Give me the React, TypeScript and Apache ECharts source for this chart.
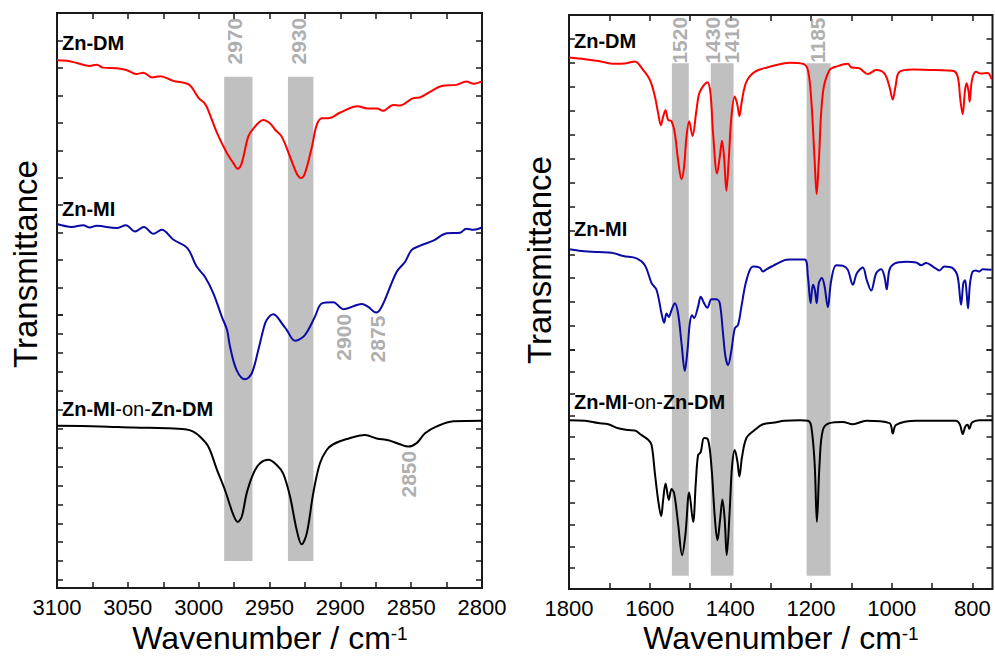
import React, { useEffect, useRef } from 'react';
import * as echarts from 'echarts';

// ---------- data (wavenumber / cm-1, transmittance in arbitrary offset units) ----------
const leftDM: number[][] = [
  [3100, 91.8], [3093, 91.7], [3086, 91.3], [3077, 90.8], [3072, 91.0], [3067.5, 90.5], [3058, 90.4], [3051, 90.1],
  [3044, 89.4], [3039, 89.6], [3033, 88.8], [3027, 89.0], [3018, 88.2], [3008, 87.7], [3005, 87.1], [3000, 85.2],
  [2995.5, 84.2], [2992, 82.3], [2987, 79.1], [2980, 75.6], [2975.5, 73.9], [2972.5, 72.9], [2969.6, 73.9], [2965, 78.5],
  [2961.4, 79.9], [2954.4, 81.4], [2949.6, 80.8], [2946, 79.7], [2941.4, 78.5], [2935.5, 75.0], [2930.8, 72.1], [2927.8, 71.3],
  [2925, 72.1], [2920, 76.8], [2916.7, 80.5], [2913, 81.7], [2908.5, 81.7], [2900, 82.7], [2888, 83.8], [2881, 83.4],
  [2874, 83.4], [2870, 83.0], [2862.6, 84.0], [2858, 83.9], [2848.5, 85.2], [2844, 85.3], [2836.7, 86.3], [2828.4, 87.3],
  [2818, 87.5], [2811, 88.1], [2806, 87.7], [2800, 88.1],
];
const leftMI: number[][] = [
  [3100, 63.3], [3089.6, 62.8], [3081.4, 63.1], [3077, 62.7], [3072, 63.0], [3058, 62.6], [3051.3, 63.1], [3045, 62.0],
  [3038.6, 62.8], [3032, 61.6], [3026, 62.3], [3018, 60.6], [3008, 59.1], [3001.4, 55.9], [2995.5, 54.1], [2989.7, 51.3],
  [2983.7, 47.2], [2980, 44.9], [2977.9, 42.0], [2973.2, 37.9], [2967.3, 36.3], [2962.6, 37.3], [2957.9, 41.4], [2954.4, 44.9],
  [2952, 46.6], [2947.3, 47.6], [2940.3, 45.7], [2937.9, 44.9], [2932, 43.0], [2926.1, 43.7], [2922.6, 44.9], [2917.9, 47.2],
  [2913, 49.5], [2905, 49.7], [2897.9, 48.5], [2884.9, 49.4], [2880.3, 48.9], [2874.8, 47.9], [2870.8, 48.9], [2860.2, 55.0],
  [2854.4, 56.7], [2849.6, 58.8], [2844, 59.5], [2834.4, 60.4], [2824.9, 61.7], [2815.5, 61.8], [2811, 62.5], [2806, 62.3],
  [2800, 62.7],
];
const leftStack: number[][] = [
  [3100, 28.2], [3069.6, 28.1], [3046, 27.9], [3022.6, 27.8], [3009.6, 27.6], [3003.8, 27.2], [2999, 26.3], [2993.2, 24.6],
  [2987, 20.5], [2981.4, 17.0], [2975.5, 12.7], [2972.5, 11.5], [2969.6, 12.4], [2966.1, 16.5], [2961.4, 19.9], [2956.7, 21.7],
  [2950.8, 22.3], [2944.9, 21.4], [2940.3, 19.9], [2935.5, 15.9], [2930.8, 10.1], [2927.3, 7.6], [2923.7, 9.5], [2919.1, 16.5],
  [2914.4, 21.7], [2909.6, 24.0], [2905, 25.0], [2895.5, 25.9], [2882.6, 26.6], [2874.3, 26.0], [2866.1, 25.7], [2858, 25.0],
  [2852, 24.6], [2846.1, 25.2], [2840.2, 26.9], [2832, 28.1], [2820.2, 29.0], [2800, 29.1],
];
const rightDM: number[][] = [
  [1800, 92.6], [1760, 92.3], [1727.5, 92.0], [1686, 91.5], [1657, 91.6], [1636.6, 91.9], [1616, 90.4], [1599.5, 88.7],
  [1587, 85.8], [1579, 82.9], [1572.3, 80.8], [1566.6, 82.3], [1560.6, 83.4], [1554.2, 81.7], [1545.8, 81.5], [1537.6, 79.4],
  [1529.5, 74.7], [1521, 71.4], [1514.6, 73.6], [1508.7, 78.8], [1502, 81.5], [1493.8, 78.9], [1484, 83.4], [1475.7, 86.6],
  [1456.7, 88.3], [1449.3, 86.4], [1442.8, 79.4], [1432.9, 72.4], [1426.2, 75.3], [1420.6, 78.1], [1415.6, 75.3], [1409.7, 69.4],
  [1404, 74.7], [1397.3, 82.3], [1389, 85.8], [1382.4, 84.3], [1377.5, 82.4], [1371, 85.2], [1360, 88.4], [1339.6, 90.1],
  [1306.7, 90.9], [1265.4, 91.6], [1253, 91.7], [1220, 91.5], [1207.7, 90.4], [1199.3, 85.2], [1191, 74.7], [1186, 68.8],
  [1180.5, 74.7], [1170.6, 86.4], [1154, 90.4], [1133.4, 91.1], [1108.7, 91.5], [1100.3, 90.9], [1079.7, 90.7], [1059.2, 89.7],
  [1038.4, 90.4], [1017.8, 89.8], [1005.5, 87.5], [997.3, 85.3], [990.6, 87.5], [980.7, 90.1], [947.8, 90.5], [889.9, 90.4],
  [848.8, 90.3], [836.4, 89.3], [829.7, 85.2], [824, 82.7], [818.1, 86.9], [814.1, 88.1], [809.2, 86.6], [806.7, 84.9],
  [800.8, 88.7], [790.9, 90.1], [778.5, 89.8], [762.1, 89.9], [752.2, 88.8],
];
const rightMI: number[][] = [
  [1800, 59.2], [1768.6, 58.9], [1727.5, 58.7], [1694.3, 58.6], [1665.6, 58.0], [1632.4, 57.6], [1611.9, 56.4], [1595.3, 53.3],
  [1582.9, 52.1], [1570.6, 48.0], [1564.1, 46.4], [1558.2, 48.0], [1552.5, 47.4], [1545.8, 48.6], [1537.6, 49.8], [1529.5, 48.0],
  [1521, 42.8], [1512.9, 38.0], [1506.2, 41.6], [1500.5, 46.3], [1494.8, 47.7], [1489.9, 47.2], [1480, 49.2], [1473.3, 50.9],
  [1465.1, 49.8], [1456.7, 49.0], [1446.8, 50.5], [1434.4, 50.5], [1426.2, 49.8], [1418.1, 44.5], [1412.1, 40.5], [1405.7, 39.0],
  [1397.3, 41.6], [1389, 45.4], [1381, 46.0], [1372.5, 49.2], [1360, 53.8], [1343.8, 56.2], [1327.2, 56.0], [1319.1, 55.3],
  [1310.6, 55.7], [1294.3, 56.3], [1265.4, 57.3], [1253, 57.4], [1215.9, 57.4], [1207.7, 54.4], [1201, 49.8], [1195.3, 53.0],
  [1190.4, 52.1], [1186, 49.8], [1180.5, 53.3], [1173, 54.2], [1166.3, 52.7], [1158.2, 49.1], [1149.8, 53.8], [1137.4, 56.4],
  [1121.1, 56.3], [1108.7, 55.6], [1096.3, 53.0], [1086.4, 55.0], [1071.6, 56.0], [1061.7, 53.8], [1050.8, 52.0], [1038.4, 55.0],
  [1026, 55.7], [1017.8, 54.4], [1012.2, 52.2], [1005.5, 55.6], [993.1, 56.7], [964.1, 57.0], [939.4, 56.9], [927, 56.4],
  [914.6, 56.8], [894.1, 56.0], [881.7, 55.5], [869.3, 56.2], [848.8, 55.9], [836.4, 54.4], [828, 49.5], [822.3, 53.3],
  [818.1, 53.8], [814.1, 51.5], [810.7, 48.9], [805.7, 53.3], [799.3, 55.3], [790.9, 55.5], [782.7, 55.3], [774.5, 55.7],
  [752.2, 55.6],
];
const rightStack: number[][] = [
  [1800, 29.4], [1760, 29.3], [1727.5, 28.9], [1702.7, 28.7], [1678, 28.0], [1653.2, 27.7], [1636.6, 27.6], [1620, 26.8],
  [1603.7, 26.0], [1595.3, 25.1], [1587.1, 20.2], [1579, 15.5], [1571.5, 12.7], [1566.6, 15.5], [1560.6, 18.4], [1552.5, 15.5],
  [1545.8, 17.4], [1539.4, 16.7], [1529.5, 11.4], [1519.6, 5.9], [1511.1, 9.7], [1502, 16.8], [1492.3, 11.7], [1485.7, 18.4],
  [1480, 23.3], [1473.3, 23.9], [1465.1, 26.3], [1455.2, 26.0], [1446.8, 21.3], [1438.6, 12.6], [1432, 8.5], [1425.5, 12.0],
  [1419.6, 15.6], [1413.9, 12.0], [1408.9, 5.9], [1401.5, 13.8], [1395.8, 21.3], [1389, 24.2], [1382.4, 22.2], [1377.5, 19.6],
  [1371, 23.0], [1360, 26.3], [1339.6, 27.7], [1319.1, 28.7], [1290.1, 29.0], [1265.4, 29.3], [1228.2, 29.4], [1207.7, 29.3],
  [1199.3, 28.3], [1191, 21.9], [1185.4, 11.7], [1178.7, 21.9], [1170.6, 27.7], [1154, 28.9], [1121.1, 29.1], [1096.3, 28.7],
  [1063.1, 29.3], [1005.5, 28.9], [997.3, 27.1], [988.9, 28.6], [939.4, 29.3], [840.4, 29.3], [830.5, 28.6], [824, 27.0],
  [817.3, 28.3], [811.7, 28.6], [807.5, 27.9], [800.8, 29.0], [782.7, 29.4], [750.5, 29.4],
];

// highlighted bands [from, to] in cm-1, and their vertical extent
const leftBands: number[][] = [[2982, 2962], [2937, 2919]];
const leftBandY: number[] = [4.7, 88.9];
const rightBands: number[][] = [[1545, 1503], [1448.5, 1392], [1211, 1151.5]];
const rightBandY: number[] = [2.3, 91.6];

// peak annotations [wavenumber, y, label]
const leftNotes: (number | string)[][] = [
  [2974.4, 95.1, '2970'], [2929.2, 95.1, '2930'], [2898, 43.6, '2900'], [2874, 43.3, '2875'], [2852, 19.8, '2850'],
];
const rightNotes: (number | string)[][] = [
  [1525, 95.6, '1520'], [1443.6, 95.6, '1430'], [1396.5, 95.6, '1410'], [1183.7, 95.6, '1185'],
];

// axis ticks and labels
const leftTicks = [3100, 3075, 3050, 3025, 3000, 2975, 2950, 2925, 2900, 2875, 2850, 2825, 2800];
const leftLabels = [3100, 3050, 3000, 2950, 2900, 2850, 2800];
const rightTicks = [1800, 1700, 1600, 1500, 1400, 1300, 1200, 1100, 1000, 900, 800];
const rightLabels = [1800, 1600, 1400, 1200, 1000, 800];

const FONT = "'Liberation Sans', Arial, Helvetica, sans-serif";
const FRAME = '#1a1a1a';
const NOTE = '#999999';
const BAND = '#c0c0c0';

export default function App() {
  const ref = useRef<HTMLDivElement>(null);
  useEffect(() => {
    const chart = echarts.init(ref.current!, null, { renderer: 'svg' });

    const panels = [
      { left: 57, top: 13, width: 425, height: 575 },
      { left: 569, top: 15, width: 423.5, height: 574 },
    ];
    // tick-decoration grids (the figure's y ticks are unevenly spaced)
    const tickGrids = [
      { left: 57, top: 13, width: 425, height: 302, max: 11 },
      { left: 57, top: 315, width: 425, height: 273, max: 14.42 },
      { left: 569, top: 15, width: 423.5, height: 335, max: 14 },
      { left: 569, top: 350, width: 423.5, height: 239, max: 10.96 },
    ];

    const grid: any[] = [
      ...panels.map((p) => ({ ...p, show: true, borderColor: FRAME, borderWidth: 2, backgroundColor: 'transparent', containLabel: false })),
      ...tickGrids.map((g) => ({ left: g.left, top: g.top, width: g.width, height: g.height, show: false })),
    ];

    const tickStyle = { show: true, inside: true, length: 6, lineStyle: { color: FRAME, width: 1.5 } };
    const mkX = (gi: number, pos: string, min: number, max: number, ticks: number[], labels: number[]) => ({
      type: 'value', gridIndex: gi, position: pos, min, max, inverse: true,
      axisLine: { show: false }, splitLine: { show: false },
      axisTick: { ...tickStyle, customValues: ticks },
      axisLabel: pos === 'bottom'
        ? {
            show: true, customValues: labels, fontSize: 22, color: '#000', fontFamily: FONT, margin: 8,
            lineHeight: 22, formatter: (v: number) => String(v),
          }
        : { show: false },
    });
    const xAxis: any[] = [
      mkX(0, 'bottom', 2800, 3100, leftTicks, leftLabels),
      mkX(0, 'top', 2800, 3100, leftTicks, leftLabels),
      mkX(1, 'bottom', 750, 1800, rightTicks, rightLabels),
      mkX(1, 'top', 750, 1800, rightTicks, rightLabels),
      ...tickGrids.map((_, i) => ({ type: 'value', gridIndex: 2 + i, show: false, min: 0, max: 1 })),
    ];
    const yAxis: any[] = [
      { type: 'value', gridIndex: 0, min: 0, max: 100, show: false },
      { type: 'value', gridIndex: 1, min: 0, max: 100, show: false },
    ];
    tickGrids.forEach((g, i) => {
      ['left', 'right'].forEach((pos) => {
        yAxis.push({
          type: 'value', gridIndex: 2 + i, position: pos, inverse: true, min: 0, max: g.max, interval: 1,
          axisLine: { show: false }, splitLine: { show: false }, axisLabel: { show: false },
          axisTick: tickStyle,
        });
      });
    });

    const line = (data: number[][], color: string, xi: number, yi: number) => ({
      type: 'line', data, xAxisIndex: xi, yAxisIndex: yi, showSymbol: false, symbol: 'none',
      smooth: 0.35, lineStyle: { color, width: 2 }, itemStyle: { color }, z: 5, silent: true,
    });
    const bands = (b: number[][], yr: number[], xi: number, yi: number) => ({
      type: 'line', data: [], xAxisIndex: xi, yAxisIndex: yi, z: 1, silent: true,
      markArea: {
        silent: true, itemStyle: { color: BAND, opacity: 1 },
        data: b.map(([a, c]) => [{ xAxis: a, yAxis: yr[0] }, { xAxis: c, yAxis: yr[1] }]),
      },
    });
    const notes = (d: (number | string)[][], xi: number, yi: number) => ({
      type: 'scatter', data: d, xAxisIndex: xi, yAxisIndex: yi, symbolSize: 0, z: 6, silent: true,
      label: {
        show: true, position: 'inside', rotate: 90, formatter: (p: any) => p.value[2],
        color: NOTE, fontSize: 21, fontWeight: 'bold', fontFamily: FONT,
      },
    });

    const series: any[] = [
      bands(leftBands, leftBandY, 0, 0),
      bands(rightBands, rightBandY, 2, 1),
      line(leftDM, '#ff0000', 0, 0),
      line(leftMI, '#0a0aa5', 0, 0),
      line(leftStack, '#000000', 0, 0),
      line(rightDM, '#ff0000', 2, 1),
      line(rightMI, '#0a0aa5', 2, 1),
      line(rightStack, '#000000', 2, 1),
      notes(leftNotes, 0, 0),
      notes(rightNotes, 2, 1),
    ];

    const label = (x: number, y: number, text: string) => ({
      type: 'text', x, y, z: 10,
      style: {
        text, fontSize: 20, fontWeight: 'bold', fontFamily: FONT, fill: '#000',
        align: 'left', verticalAlign: 'middle', textAlign: 'left', textVerticalAlign: 'middle',
      },
    });
    const stackLabel = (x: number, y: number) => ({
      type: 'text', x, y, z: 10,
      style: {
        text: '{b|Zn-MI}{n|-on-}{b|Zn-DM}',
        align: 'left', verticalAlign: 'middle', textAlign: 'left', textVerticalAlign: 'middle',
        rich: {
          b: { fontSize: 20, fontWeight: 'bold', fontFamily: FONT, fill: '#000', color: '#000' },
          n: { fontSize: 20, fontWeight: 'normal', fontFamily: FONT, fill: '#000', color: '#000' },
        },
      },
    });
    const xTitle = (x: number) => ({
      type: 'text', x, y: 639, z: 10,
      style: {
        text: '{t|Wavenumber / cm}{s|-1}',
        align: 'center', verticalAlign: 'middle', textAlign: 'center', textVerticalAlign: 'middle',
        rich: {
          t: { fontSize: 32, fontFamily: FONT, fill: '#000', color: '#000', lineHeight: 30, verticalAlign: 'bottom' },
          s: { fontSize: 19, fontFamily: FONT, fill: '#000', color: '#000', lineHeight: 19, verticalAlign: 'top' },
        },
      },
    });
    const yTitle = (x: number, y: number) => ({
      type: 'text', x, y, rotation: Math.PI / 2, z: 10,
      style: {
        text: 'Transmittance', fontSize: 33, fontFamily: FONT, fill: '#000',
        align: 'center', verticalAlign: 'middle', textAlign: 'center', textVerticalAlign: 'middle',
      },
    });

    const graphic = [
      yTitle(25, 264),
      yTitle(539, 260),
      xTitle(270),
      xTitle(781),
      label(62, 43, 'Zn-DM'),
      label(62, 209, 'Zn-MI'),
      stackLabel(62, 409),
      label(574, 41, 'Zn-DM'),
      label(574, 229, 'Zn-MI'),
      stackLabel(574, 402),
    ];

    chart.setOption({
      animation: false,
      backgroundColor: '#ffffff',
      textStyle: { fontFamily: FONT },
      grid, xAxis, yAxis, series, graphic,
    });
    return () => chart.dispose();
  }, []);
  return (
    <div
      ref={ref}
      style={{ position: 'absolute', left: 0, top: 0, width: 995, height: 657, background: '#fff' }}
    />
  );
}
